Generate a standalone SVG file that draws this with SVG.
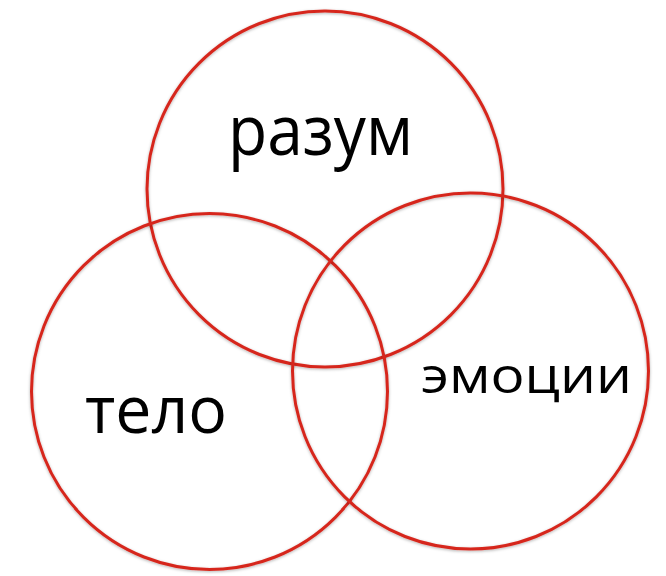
<svg xmlns="http://www.w3.org/2000/svg" width="666" height="576" viewBox="0 0 666 576">
<style>
.c{fill:none;stroke:#d6281e;stroke-width:3;filter:url(#sh)}
.t{font-family:"Open Sans","Noto Sans",sans-serif;fill:#000}
</style>
<defs>
<filter id="sh" x="-10%" y="-10%" width="120%" height="120%">
<feDropShadow dx="0" dy="1" stdDeviation="1.5" flood-color="#000" flood-opacity="0.3"/>
</filter>
</defs>
<rect width="666" height="576" fill="#fff"/>
<g id="razum">
<circle class="c" cx="325" cy="189" r="178"/>
<text class="t" x="228" y="155" font-size="69" textLength="185" lengthAdjust="spacingAndGlyphs">разум</text>
</g>
<g id="telo">
<circle class="c" cx="209.5" cy="391.5" r="178"/>
<text class="t" x="85" y="433" font-size="65" textLength="142" lengthAdjust="spacingAndGlyphs">тело</text>
</g>
<g id="emotsii">
<circle class="c" cx="470.5" cy="371" r="178"/>
<text class="t" x="421" y="393" font-size="50" textLength="211" lengthAdjust="spacingAndGlyphs">эмоции</text>
</g>
<g id="connectors"/>
</svg>
